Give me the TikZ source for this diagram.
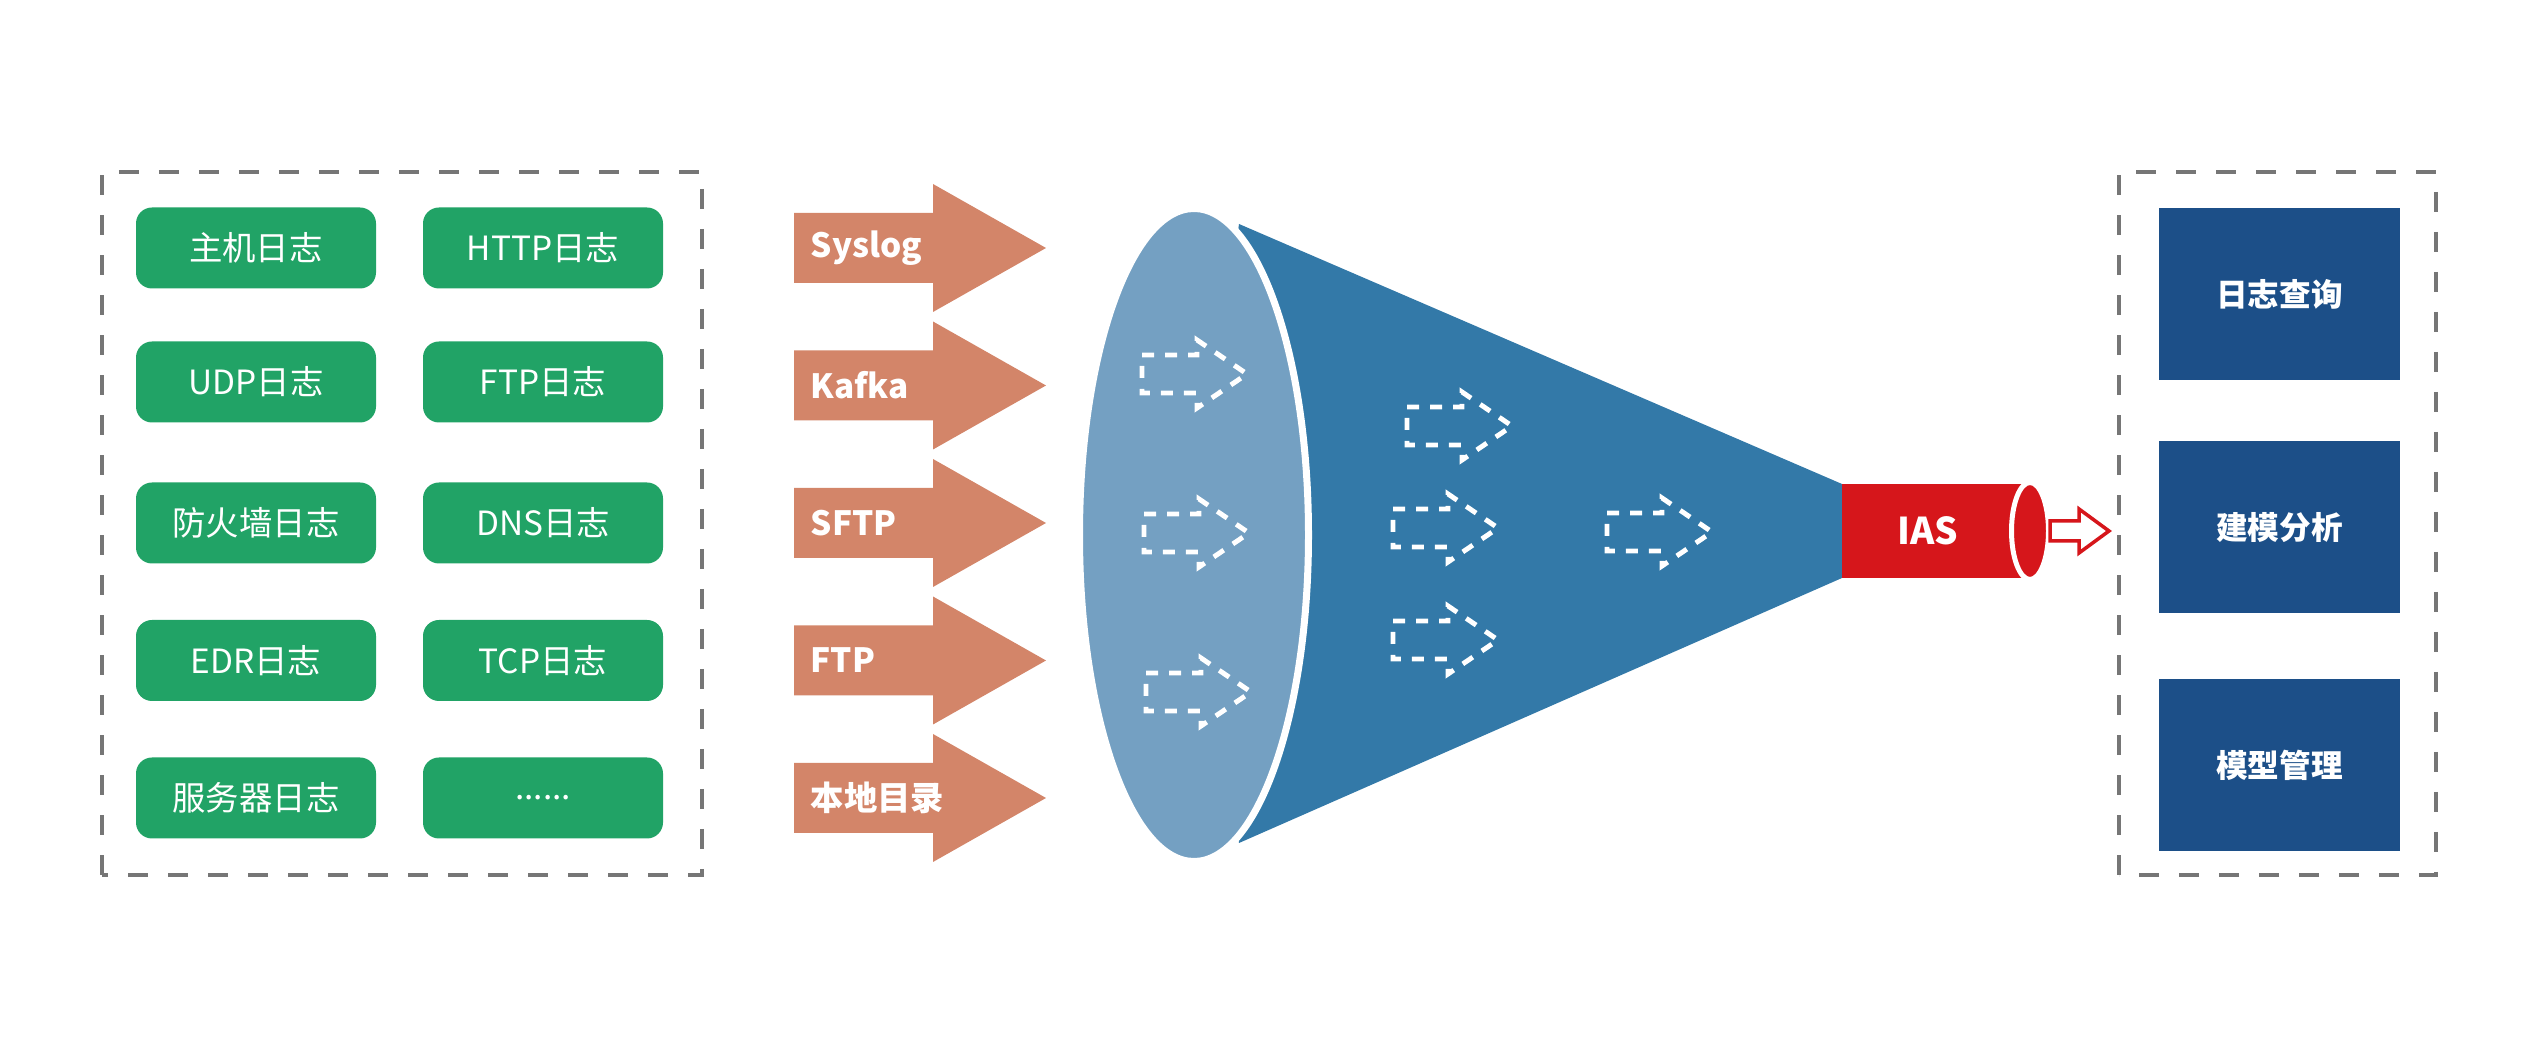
\documentclass[tikz,border=0pt]{standalone}
\usepackage{fontspec}
\setmainfont{Noto Sans CJK SC}
\definecolor{loggreen}{RGB}{33,163,102}
\definecolor{protoorange}{RGB}{211,133,105}
\definecolor{funnellight}{RGB}{116,160,194}
\definecolor{funneldark}{RGB}{51,121,168}
\definecolor{iasred}{RGB}{214,22,27}
\definecolor{appblue}{RGB}{28,79,136}
\definecolor{framegray}{RGB}{118,118,118}

\begin{document}
\begin{tikzpicture}[
  logbox/.style={fill=loggreen, text=white, rounded corners=0.16cm, minimum width=2.4cm, minimum height=0.81cm, font=\fontsize{9.5}{11}\selectfont},
  protolabel/.style={anchor=west, inner sep=0pt, text=white, font=\fontsize{9.5}{11}\selectfont\bfseries},
  appbox/.style={fill=appblue, text=white, minimum width=2.41cm, minimum height=1.72cm, font=\fontsize{9}{11}\selectfont\bfseries},
  frame/.style={draw=framegray, line width=1pt, dash pattern=on 2mm off 2mm},
  flowmark/.style={draw=white, line width=1.4pt, dash pattern=on 1.2mm off 1.1mm}
]
  \useasboundingbox (0,0) rectangle (25.42,10.42);

  % Log sources
  \draw[frame] (1.02,1.67) rectangle (7.02,8.70);
  \node (hostlog) [logbox] at (2.56,7.94) {主机日志};
  \node (httplog) [logbox] at (5.43,7.94) {HTTP日志};
  \node (udplog) [logbox] at (2.56,6.6) {UDP日志};
  \node (ftplog) [logbox] at (5.43,6.6) {FTP日志};
  \node (fwlog) [logbox] at (2.56,5.19) {防火墙日志};
  \node (dnslog) [logbox] at (5.43,5.19) {DNS日志};
  \node (edrlog) [logbox] at (2.56,3.815) {EDR日志};
  \node (tcplog) [logbox] at (5.43,3.815) {TCP日志};
  \node (serverlog) [logbox] at (2.56,2.44) {服务器日志};
  \node (morelog) [logbox] at (5.43,2.44) {......};

  % Collection protocols
  \foreach \y/\txt/\nm in {7.94/Syslog/syslog, 6.565/Kafka/kafka, 5.19/SFTP/sftp, 3.815/FTP/ftp, 2.44/本地目录/localdir} {
    \fill[protoorange] (7.94,\y+0.35) -- (9.33,\y+0.35) -- (9.33,\y+0.64) -- (10.46,\y) -- (9.33,\y-0.64) -- (9.33,\y-0.35) -- (7.94,\y-0.35) -- cycle;
    \node (\nm) [protolabel] at (8.10,\y) {\txt};
  }

  % Funnel
  \fill[funneldark] (12.39,8.18) -- (18.42,5.58) -- (18.42,4.64) -- (12.39,1.99) -- (11.94,5.07) -- cycle;
  \filldraw[fill=funnellight, draw=white, line width=0.07cm] (11.94,5.07) ellipse [x radius=1.145cm, y radius=3.265cm];

  \foreach \x/\y in {11.42/6.68, 11.44/5.09, 11.46/3.50, 14.07/6.16, 13.93/5.14, 13.93/4.02, 16.07/5.10}
    \draw[flowmark] (\x,\y+0.19) -- ++(0.55,0) -- ++(0,0.15) -- (\x+1.05,\y) -- (\x+0.55,\y-0.34) -- ++(0,0.15) -- (\x,\y-0.19) -- cycle;

  % IAS pipe
  \fill[iasred] (18.42,4.64) rectangle (20.30,5.58);
  \filldraw[fill=iasred, draw=white, line width=0.05cm] (20.30,5.11) ellipse [x radius=0.185cm, y radius=0.485cm];
  \node (ias) [text=white, font=\fontsize{10.5}{12}\selectfont\bfseries] at (19.28,5.11) {IAS};

  \draw[iasred, fill=white, line width=1pt] (20.50,5.21) -- (20.79,5.21) -- (20.79,5.33) -- (21.09,5.11) -- (20.79,4.89) -- (20.79,5.01) -- (20.50,5.01) -- cycle;

  % Applications
  \draw[frame] (21.19,1.67) rectangle (24.36,8.70);
  \node (query) [appbox] at (22.795,7.48) {日志查询};
  \node (model) [appbox] at (22.795,5.145) {建模分析};
  \node (manage) [appbox] at (22.795,2.77) {模型管理};

\end{tikzpicture}
\end{document}
